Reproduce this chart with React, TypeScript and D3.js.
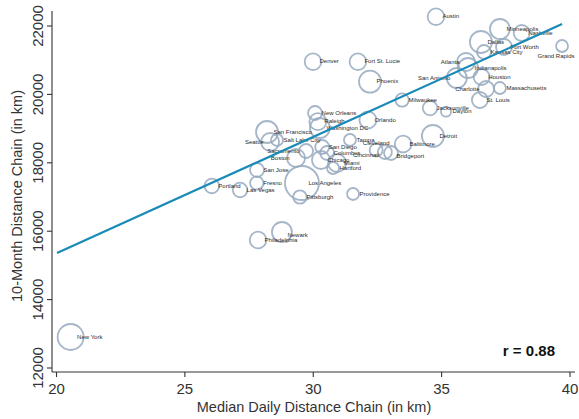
import React from "react";
import * as d3 from "d3";

const cities = [
  "New York", "Austin", "Minneapolis", "Nashville", "Dallas", "Fort Worth", "Kansas City",
  "Grand Rapids", "Atlanta", "Indianapolis", "San Antonio", "Houston", "Charlotte",
  "Massachusetts", "St. Louis", "Denver", "Fort St. Lucie", "Phoenix", "Milwaukee",
  "Jacksonville", "Dayton", "Orlando", "New Orleans", "Raleigh", "Washington DC", "Tampa",
  "Detroit", "Baltimore", "Cleveland", "Cincinnati", "Bridgeport", "San Francisco", "Seattle",
  "Salt Lake City", "Sacramento", "Boston", "San Diego", "Columbus", "Chicago", "Miami",
  "Hartford", "San Jose", "Fresno", "Portland", "Las Vegas", "Los Angeles", "Pittsburgh",
  "Providence", "Newark", "Philadelphia",
];

const medianDaily = [
  20.55, 34.78, 37.27, 38.12, 36.53, 37.43, 36.65,
  39.69, 35.95, 36.03, 35.59, 36.56, 36.73,
  37.27, 36.49, 29.99, 31.74, 32.21, 33.46,
  34.55, 35.17, 32.13, 30.07, 30.18, 30.26, 31.43,
  34.66, 33.5, 32.45, 32.79, 33.03, 28.2, 28.32,
  28.59, 29.72, 29.33, 30.35, 30.54, 30.3, 30.93,
  30.77, 27.81, 27.8, 26.05, 27.15, 29.56, 29.48,
  31.55, 28.78, 27.85,
];

const tenMonth = [
  12906, 22272, 21912, 21795, 21532, 21386, 21240,
  21415, 20947, 20772, 20480, 20509, 20158,
  20187, 19836, 20956, 20956, 20371, 19836,
  19602, 19494, 19252, 19456, 19202, 19018, 18667,
  18784, 18550, 18374, 18316, 18287, 18900, 18608,
  18667, 18345, 18140, 18462, 18287, 18082, 17994,
  17848, 17790, 17409, 17322, 17205, 17409, 17000,
  17088, 15977, 15743,
];

const weights = [
  169, 69, 100, 64, 121, 64, 49,
  36, 81, 100, 100, 64, 64,
  36, 64, 69, 69, 121, 45,
  53, 25, 72, 49, 72, 100, 36,
  121, 69, 42, 49, 49, 121, 81,
  36, 49, 81, 49, 49, 81, 81,
  36, 49, 45, 53, 53, 289, 45,
  36, 100, 69,
];

// Stata-style clock positions for the marker labels
const labelPos = [
  3, 3, 3, 3, 3, 3, 3,
  7, 9, 3, 9, 3, 9,
  3, 3, 3, 3, 3, 3,
  3, 3, 3, 3, 3, 3, 3,
  3, 3, 12, 8, 4, 3, 9,
  3, 9, 9, 3, 3, 3, 3,
  3, 3, 3, 3, 3, 3, 3,
  3, 4, 3,
];

const xTicks = [20, 25, 30, 35, 40];
const yTicks = [12000, 14000, 16000, 18000, 20000, 22000];
const fitRange = [20.02, 39.69];
const fitIntercept = 8548;
const fitSlope = 340.4;
const correlationText = "r = 0.88";
const xTitle = "Median Daily Distance Chain (in km)";
const yTitle = "10-Month Distance Chain (in km)";

const W = 579;
const H = 419;
const plot = { left: 52, right: 575, top: 11, bottom: 372 };
const FONT = "'Liberation Sans', Arial, Helvetica, sans-serif";

const posOffsets: Record<number, { dx: number; dy: number; anchor: string }> = {
  3: { dx: 6.5, dy: 0, anchor: "start" },
  9: { dx: -6.5, dy: 0, anchor: "end" },
  12: { dx: 0, dy: -6.5, anchor: "middle" },
  6: { dx: 0, dy: 9, anchor: "middle" },
  4: { dx: 5.5, dy: 3.5, anchor: "start" },
  8: { dx: -5.5, dy: 3.5, anchor: "end" },
  7: { dx: -6, dy: 10, anchor: "middle" },
};

export default function App() {
  const x = d3.scaleLinear().domain([20, 40]).range([56.5, 570]);
  const y = d3.scaleLinear().domain([12000, 22000]).range([368, 26]);
  const r = d3.scaleSqrt().domain([0, 100]).range([0, 10]);

  const data = cities.map((c, i) => ({
    city: c,
    x: medianDaily[i],
    y: tenMonth[i],
    w: weights[i],
    pos: labelPos[i],
  }));

  const fitLine = d3
    .line<number>()
    .x((v) => x(v))
    .y((v) => y(fitIntercept + fitSlope * v));

  return (
    <svg
      width={W}
      height={H}
      viewBox={`0 0 ${W} ${H}`}
      style={{ position: "absolute", left: 0, top: 0, background: "#fff" }}
      fontFamily={FONT}
    >
      <rect x={0} y={0} width={W} height={H} fill="#fff" />
      <g>
        {data.map((d) => (
          <circle
            key={d.city}
            cx={x(d.x)}
            cy={y(d.y)}
            r={r(d.w)}
            fill="none"
            stroke="#97a9bf"
            strokeOpacity={0.85}
            strokeWidth={1.8}
          />
        ))}
      </g>
      <g fontSize={6} fill="#2a2a2a">
        {data.map((d) => {
          const o = posOffsets[d.pos] || posOffsets[3];
          return (
            <text
              key={d.city}
              x={x(d.x) + o.dx}
              y={y(d.y) + o.dy}
              textAnchor={o.anchor}
              dominantBaseline="middle"
            >
              {d.city}
            </text>
          );
        })}
      </g>
      <path d={fitLine(fitRange) || ""} fill="none" stroke="#1a8bb8" strokeWidth={2.2} />
      <g stroke="#333" strokeWidth={1.1}>
        <line x1={plot.left} x2={plot.right} y1={plot.bottom} y2={plot.bottom} />
        <line x1={plot.left} x2={plot.left} y1={plot.top} y2={plot.bottom} />
        {xTicks.map((t) => (
          <line key={t} x1={x(t)} x2={x(t)} y1={plot.bottom} y2={plot.bottom + 5} />
        ))}
        {yTicks.map((t) => (
          <line key={t} x1={plot.left} x2={plot.left - 5} y1={y(t)} y2={y(t)} />
        ))}
      </g>
      <g fontSize={15} fill="#333">
        {xTicks.map((t) => (
          <text key={t} x={x(t)} y={394} textAnchor="middle">
            {t}
          </text>
        ))}
        {yTicks.map((t) => (
          <text
            key={t}
            transform={`translate(43, ${y(t)}) rotate(-90)`}
            textAnchor="middle"
          >
            {t}
          </text>
        ))}
      </g>
      <text x={314} y={412} textAnchor="middle" fontSize={14.5} fill="#333">
        {xTitle}
      </text>
      <text
        transform={`translate(22, 196) rotate(-90)`}
        textAnchor="middle"
        fontSize={14.5}
        fill="#333"
      >
        {yTitle}
      </text>
      <text x={555} y={356} textAnchor="end" fontSize={15} fontWeight="bold" fill="#111">
        {correlationText}
      </text>
    </svg>
  );
}
